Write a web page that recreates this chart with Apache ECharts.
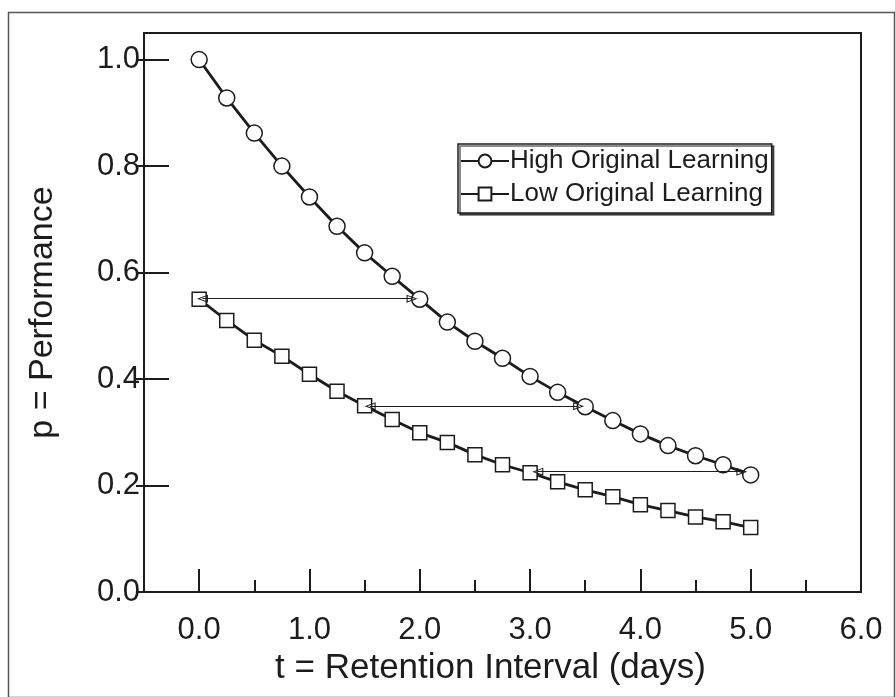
<!DOCTYPE html>
<html>
<head>
<meta charset="utf-8">
<script src="https://cdn.jsdelivr.net/npm/echarts@6/dist/echarts.min.js"></script>
<style>
html,body{margin:0;padding:0;background:#fff;}
#c{width:895px;height:697px;}
</style>
</head>
<body>
<div id="c"></div>
<script>
// ---- data ----
const tValues = [0, 0.25, 0.5, 0.75, 1.0, 1.25, 1.5, 1.75, 2.0, 2.25, 2.5, 2.75, 3.0, 3.25, 3.5, 3.75, 4.0, 4.25, 4.5, 4.75, 5.0];
const highValues = [1.0, 0.928, 0.862, 0.800, 0.742, 0.687, 0.637, 0.593, 0.550, 0.507, 0.471, 0.439, 0.405, 0.375, 0.348, 0.322, 0.297, 0.275, 0.256, 0.239, 0.220];
const lowValues = [0.550, 0.510, 0.473, 0.443, 0.409, 0.377, 0.350, 0.324, 0.299, 0.281, 0.258, 0.239, 0.224, 0.207, 0.192, 0.179, 0.164, 0.153, 0.141, 0.132, 0.121];
const seriesNames = ['High Original Learning', 'Low Original Learning'];
const xMajorTicks = [0, 1, 2, 3, 4, 5];
const xMinorTicks = [0.5, 1.5, 2.5, 3.5, 4.5, 5.5];
const xTickLabels = [0, 1, 2, 3, 4, 5, 6];
const yTickLabels = [0, 0.2, 0.4, 0.6, 0.8, 1.0];
// arrows: [from t, to t, p]
const arrows = [
  [0.03, 1.93, 0.551],
  [1.55, 3.44, 0.349],
  [3.07, 4.92, 0.226]
];
const xTitle = 't = Retention Interval (days)';
const yTitle = 'p = Performance';

const FONT = 'Liberation Sans';
const INK = '#1c1c1c';
const openTri = 'path://M0,0 L10,20 L-10,20 Z M0,5 L-6.5,18 L6.5,18 Z';

const chart = echarts.init(document.getElementById('c'), null, {renderer: 'canvas'});
const option = {
  backgroundColor: '#fff',
  animation: false,
  textStyle: {fontFamily: FONT, color: INK},
  graphic: [{
    type: 'rect', left: 6, top: 10, z: 0,
    shape: {width: 886, height: 685},
    style: {fill: 'none', stroke: '#555', lineWidth: 1.5}
  }],
  grid: {
    left: 144, right: 34, top: 33, bottom: 105,
    show: true, borderColor: INK, borderWidth: 2, backgroundColor: 'transparent'
  },
  legend: {
    data: seriesNames,
    orient: 'vertical',
    left: 458, top: 144,
    itemWidth: 48, itemHeight: 16, itemGap: 7,
    padding: [4, 3, 6, 2],
    borderColor: INK, borderWidth: 1.5, borderRadius: 0,
    backgroundColor: '#fff',
    shadowColor: 'rgba(0,0,0,0.6)', shadowOffsetX: 2, shadowOffsetY: 2, shadowBlur: 0,
    textStyle: {fontFamily: FONT, fontSize: 26, color: INK, padding: [0, 0, 0, -4]}
  },
  xAxis: [{
    type: 'value', min: -0.5, max: 6, position: 'bottom',
    name: xTitle, nameLocation: 'middle', nameGap: 56,
    nameTextStyle: {fontFamily: FONT, fontSize: 35, color: INK, padding: [0, 24, 0, 0]},
    axisLine: {show: true, onZero: false, lineStyle: {color: INK, width: 2}},
    axisTick: {show: true, inside: true, length: 23, customValues: xMajorTicks, lineStyle: {color: INK, width: 2}},
    axisLabel: {show: true, customValues: xTickLabels, margin: 23, fontFamily: FONT, fontSize: 31, color: INK,
      formatter: v => v.toFixed(1)},
    splitLine: {show: false}
  }, {
    type: 'value', min: -0.5, max: 6, position: 'bottom', offset: 0,
    axisLine: {show: false, onZero: false},
    axisTick: {show: true, inside: true, length: 12, customValues: xMinorTicks, lineStyle: {color: INK, width: 2}},
    axisLabel: {show: false},
    splitLine: {show: false}
  }],
  yAxis: [{
    type: 'value', min: 0, max: 1.05, position: 'left',
    name: yTitle, nameLocation: 'middle', nameGap: 84,
    nameTextStyle: {fontFamily: FONT, fontSize: 34, color: INK},
    axisLine: {show: true, onZero: false, lineStyle: {color: INK, width: 2}},
    axisTick: {show: true, inside: false, length: 8, customValues: yTickLabels, lineStyle: {color: INK, width: 2}},
    axisLabel: {show: true, customValues: yTickLabels, margin: 4, fontFamily: FONT, fontSize: 31, color: INK,
      formatter: v => v.toFixed(1)},
    splitLine: {show: false}
  }, {
    type: 'value', min: 0, max: 1.05, position: 'left', offset: 0,
    axisLine: {show: false, onZero: false},
    axisTick: {show: true, inside: true, length: 25, customValues: yTickLabels, lineStyle: {color: INK, width: 2}},
    axisLabel: {show: false},
    splitLine: {show: false}
  }],
  series: [{
    name: seriesNames[0], type: 'line', xAxisIndex: 0, yAxisIndex: 0,
    data: tValues.map((t, i) => [t, highValues[i]]),
    symbol: 'circle', symbolSize: 16, z: 3,
    lineStyle: {color: INK, width: 2.8},
    itemStyle: {color: '#fff', borderColor: INK, borderWidth: 1.5}
  }, {
    name: seriesNames[1], type: 'line', xAxisIndex: 0, yAxisIndex: 0,
    data: tValues.map((t, i) => [t, lowValues[i]]),
    symbol: 'rect', symbolSize: 14, z: 3,
    lineStyle: {color: INK, width: 2.8},
    itemStyle: {color: '#fff', borderColor: INK, borderWidth: 1.5},
    markLine: {
      silent: true, z: 5,
      symbol: [openTri, openTri], symbolSize: [8, 11],
      label: {show: false},
      lineStyle: {color: INK, width: 1, type: 'solid'},
      emphasis: {disabled: true},
      data: arrows.map(a => [{coord: [a[0], a[2]]}, {coord: [a[1], a[2]]}])
    }
  }]
};
chart.setOption(option);
</script>
</body>
</html>
